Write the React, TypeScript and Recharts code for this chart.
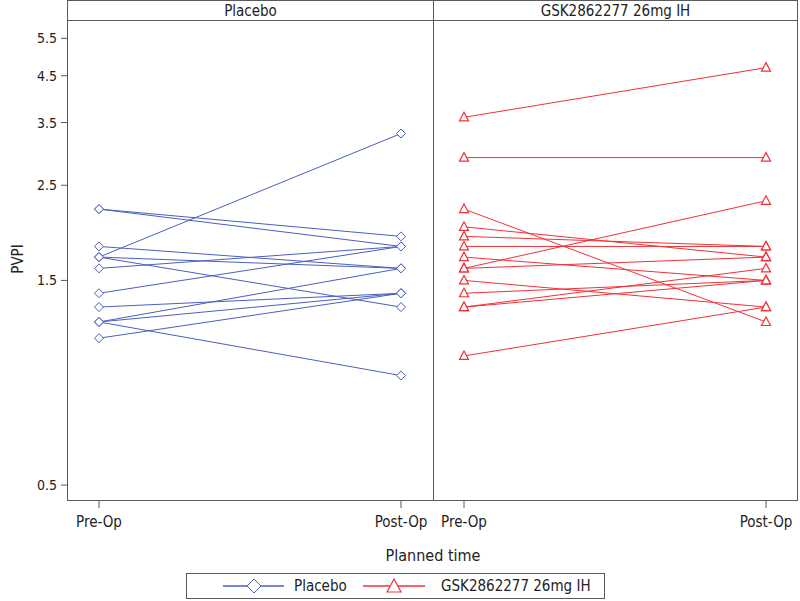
import { LineChart, Line, XAxis, YAxis } from 'recharts';

const timePoints = ['Pre-Op', 'Post-Op'];
const placeboPre = [2.2, 2.2, 1.8, 1.7, 1.7, 1.7, 1.6, 1.4, 1.3, 1.2, 1.2, 1.2, 1.1];
const placeboPost = [1.9, 1.8, 1.6, 3.3, 1.6, 1.3, 1.8, 1.8, 1.4, 1.6, 1.4, 0.9, 1.4];
const gskPre = [3.6, 2.9, 2.2, 2.0, 1.9, 1.8, 1.7, 1.6, 1.6, 1.5, 1.4, 1.3, 1.3, 1.0];
const gskPost = [4.7, 2.9, 1.2, 1.7, 1.8, 1.8, 1.5, 2.3, 1.7, 1.3, 1.5, 1.6, 1.5, 1.3];
const yTicks = [0.5, 1.5, 2.5, 3.5, 4.5, 5.5];

const FONT = "'Liberation Sans Narrow', 'DejaVu Sans Condensed', 'Arial Narrow', sans-serif";
const BLUE = '#4a5fc0';
const RED = '#f03238';
const FRAME = '#5a5a5a';
const Y_DOMAIN = [0.4615, 6.07];

const buildRows = (pre: number[], post: number[]) =>
  timePoints.map((time, t) => {
    const row: Record<string, any> = { time };
    pre.forEach((v, i) => {
      row[`s${i}`] = t === 0 ? v : post[i];
    });
    return row;
  });

const placeboRows = buildRows(placeboPre, placeboPost);
const gskRows = buildRows(gskPre, gskPost);

const renderDiamond = (props: any) => {
  const { cx, cy, index, dataKey } = props;
  const r = 4.5;
  return (
    <path
      key={`d-${dataKey}-${index}`}
      d={`M${cx},${cy - r}L${cx + r},${cy}L${cx},${cy + r}L${cx - r},${cy}Z`}
      fill="#fff"
      stroke={BLUE}
      strokeWidth={1}
    />
  );
};

const renderTriangle = (props: any) => {
  const { cx, cy, index, dataKey } = props;
  const w = 4.5;
  return (
    <path
      key={`t-${dataKey}-${index}`}
      d={`M${cx},${cy - 5}L${cx + w},${cy + 3.5}L${cx - w},${cy + 3.5}Z`}
      fill="#fff"
      stroke={RED}
      strokeWidth={1.2}
    />
  );
};

const xTick = { fontSize: 15, fill: '#222', fontFamily: FONT };

export default function App() {
  return (
    <div style={{ position: 'absolute', left: 0, top: 0, width: 800, height: 601, background: '#fff', fontFamily: FONT }}>
      <div style={{ position: 'absolute', left: 0, top: 0 }}>
        <LineChart width={433} height={601} data={placeboRows} margin={{ top: 20, right: 0, bottom: 0, left: 0 }}>
          <XAxis
            dataKey="time"
            type="category"
            height={101}
            padding={{ left: 32, right: 32 }}
            axisLine={false}
            tickLine={{ stroke: FRAME }}
            tickSize={8}
            tickMargin={8}
            tick={xTick}
            interval={0}
          />
          <YAxis
            scale="log"
            type="number"
            domain={Y_DOMAIN}
            allowDataOverflow
            ticks={yTicks}
            width={67}
            axisLine={false}
            tickLine={{ stroke: FRAME }}
            tickSize={6}
            tickMargin={4}
            tick={{ fontSize: 14, fill: '#222', fontFamily: FONT }}
            tickFormatter={(v: number) => v.toFixed(1)}
          />
          {placeboPre.map((_, i) => (
            <Line
              key={i}
              dataKey={`s${i}`}
              stroke={BLUE}
              strokeWidth={1}
              dot={renderDiamond}
              activeDot={false}
              isAnimationActive={false}
            />
          ))}
        </LineChart>
      </div>
      <div style={{ position: 'absolute', left: 433, top: 0 }}>
        <LineChart width={364} height={601} data={gskRows} margin={{ top: 20, right: 0, bottom: 0, left: 0 }}>
          <XAxis
            dataKey="time"
            type="category"
            height={101}
            padding={{ left: 31, right: 31 }}
            axisLine={false}
            tickLine={{ stroke: FRAME }}
            tickSize={8}
            tickMargin={8}
            tick={xTick}
            interval={0}
          />
          <YAxis hide scale="log" type="number" domain={Y_DOMAIN} allowDataOverflow ticks={yTicks} width={0} />
          {gskPre.map((_, i) => (
            <Line
              key={i}
              dataKey={`s${i}`}
              stroke={RED}
              strokeWidth={1}
              dot={renderTriangle}
              activeDot={false}
              isAnimationActive={false}
            />
          ))}
        </LineChart>
      </div>

      {/* panel frame and header strip */}
      <div style={{ position: 'absolute', left: 67, top: 0, width: 729, height: 499, border: `1px solid ${FRAME}`, pointerEvents: 'none' }} />
      <div style={{ position: 'absolute', left: 67, top: 20, width: 730, height: 1, background: FRAME }} />
      <div style={{ position: 'absolute', left: 433, top: 0, width: 1, height: 500, background: FRAME }} />
      <div style={{ position: 'absolute', left: 68, top: 2, width: 365, height: 18, lineHeight: '18px', textAlign: 'center', fontSize: 15, color: '#222' }}>
        Placebo
      </div>
      <div style={{ position: 'absolute', left: 434, top: 2, width: 363, height: 18, lineHeight: '18px', textAlign: 'center', fontSize: 15, color: '#222' }}>
        GSK2862277 26mg IH
      </div>

      {/* axis titles */}
      <div style={{ position: 'absolute', left: 0, top: 546, width: 866, textAlign: 'center', fontSize: 16, color: '#222' }}>
        Planned time
      </div>
      <div
        style={{
          position: 'absolute',
          left: 18,
          top: 259,
          transform: 'translate(-50%, -50%) rotate(-90deg)',
          fontSize: 15,
          color: '#222',
          whiteSpace: 'nowrap',
        }}
      >
        PVPI
      </div>

      {/* legend */}
      <div style={{ position: 'absolute', left: 186, top: 573, width: 417, height: 24, border: `1px solid ${FRAME}`, fontSize: 15, color: '#222' }}>
        <svg width={417} height={24} style={{ position: 'absolute', left: 0, top: 0 }}>
          <line x1={36} x2={97} y1={12} y2={12} stroke={BLUE} strokeWidth={1.5} />
          <path d="M67,5L74,12L67,19L60,12Z" fill="#fff" stroke={BLUE} strokeWidth={1} />
          <line x1={176} x2={238} y1={12} y2={12} stroke={RED} strokeWidth={1.5} />
          <path d="M207,5L214,18L200,18Z" fill="#fff" stroke={RED} strokeWidth={1.2} />
        </svg>
        <span style={{ position: 'absolute', left: 107, top: 3 }}>Placebo</span>
        <span style={{ position: 'absolute', left: 254, top: 3 }}>GSK2862277 26mg IH</span>
      </div>
    </div>
  );
}
